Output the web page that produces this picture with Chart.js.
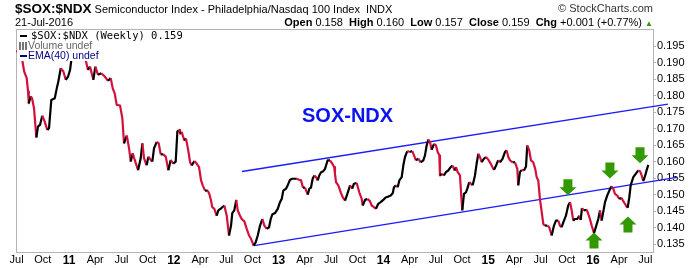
<!DOCTYPE html>
<html>
<head>
<meta charset="utf-8">
<script src="https://cdn.jsdelivr.net/npm/chart.js@4"></script>
<style>
  html, body { margin: 0; padding: 0; background: #fff; }
  #wrap { position: relative; width: 700px; height: 268px; font-family: "Liberation Sans", Arial, sans-serif; color: #000; }
  #c { position: absolute; left: 0; top: 0; }
  .abs { position: absolute; white-space: nowrap; }
  #title { left: 15px; top: 1px; line-height: 16px; font-size: 11px; }
  #title b { font-size: 13.5px; }
  #copy { right: 47px; top: 2px; font-size: 11px; color: #333; line-height: 13px; }
  #date { left: 15px; top: 16px; font-size: 11px; line-height: 13px; }
  #quote { right: 47px; top: 16px; font-size: 11px; line-height: 13px; }
  #quote .up { color: #2e9a00; font-size: 8px; }
  #legend { left: 17px; top: 30px; width: 170px; height: 31px; background: #fff; }
  #legend div { height: 10px; line-height: 10px; font-size: 10.5px; }
  .mono { font-family: "DejaVu Sans Mono", monospace; }
  .dash { display: inline-block; width: 7px; height: 2px; vertical-align: middle; margin: 0 4px 0 3px; }
  .bars { display: inline-block; width: 9px; height: 8px; vertical-align: -1px; margin-left: 2px;
          background: linear-gradient(to right, #777 0 2px, transparent 2px 3px, #777 3px 5px, transparent 5px 6px, #777 6px 8px, transparent 8px); }
  #note { left: 302px; top: 105px; font-size: 20px; font-weight: bold; color: #0a14f0; line-height: 20px; }
</style>
</head>
<body>
<div id="wrap">
  <canvas id="c" width="700" height="268"></canvas>
  <div class="abs" id="title"><b>$SOX:$NDX</b> Semiconductor Index - Philadelphia/Nasdaq 100 Index &nbsp;INDX</div>
  <div class="abs" id="copy">&copy; StockCharts.com</div>
  <div class="abs" id="date">21-Jul-2016</div>
  <div class="abs" id="quote"><b>Open</b> 0.158 &nbsp;<b>High</b> 0.160 &nbsp;<b>Low</b> 0.157 &nbsp;<b>Close</b> 0.159 &nbsp;<b>Chg</b> +0.001 (+0.77%) <span class="up">&#9650;</span></div>
  <div class="abs" id="legend">
    <div class="mono"><span class="dash" style="background:#000"></span>$SOX:$NDX (Weekly) 0.159</div>
    <div style="color:#666"><span class="bars"></span>Volume undef</div>
    <div style="color:#000080"><span class="dash" style="background:#000080;margin-right:1px"></span>EMA(40) undef</div>
  </div>
  <div class="abs" id="note">SOX-NDX</div>
</div>
<script>
// weekly $SOX:$NDX, x = decimal year
const dates = [
  2010.500, 2010.528, 2010.554, 2010.571, 2010.596, 2010.609, 2010.616, 2010.635, 2010.647, 2010.666,
  2010.688, 2010.704, 2010.723, 2010.745, 2010.768, 2010.793, 2010.809, 2010.831, 2010.864, 2010.883,
  2010.898, 2010.921, 2010.946, 2010.969, 2010.991, 2011.010, 2011.022, 2011.048, 2011.076, 2011.105,
  2011.134, 2011.159, 2011.181, 2011.200, 2011.232, 2011.251, 2011.277, 2011.308, 2011.341, 2011.372,
  2011.398, 2011.417, 2011.436, 2011.455, 2011.487, 2011.509, 2011.525, 2011.551, 2011.573, 2011.589,
  2011.608, 2011.627, 2011.659, 2011.684, 2011.700, 2011.716, 2011.741, 2011.757, 2011.780, 2011.795,
  2011.811, 2011.837, 2011.856, 2011.875, 2011.900, 2011.923, 2011.948, 2011.970, 2011.995, 2012.018,
  2012.034, 2012.050, 2012.059, 2012.075, 2012.100, 2012.116, 2012.138, 2012.155, 2012.171, 2012.196,
  2012.218, 2012.241, 2012.260, 2012.276, 2012.298, 2012.324, 2012.339, 2012.355, 2012.367, 2012.387,
  2012.409, 2012.425, 2012.457, 2012.482, 2012.505, 2012.527, 2012.546, 2012.558, 2012.577, 2012.596,
  2012.610, 2012.632, 2012.648, 2012.673, 2012.696, 2012.718, 2012.737, 2012.762, 2012.781, 2012.801,
  2012.823, 2012.845, 2012.864, 2012.887, 2012.909, 2012.925, 2012.940, 2012.966, 2012.992, 2013.013,
  2013.030, 2013.045, 2013.071, 2013.087, 2013.109, 2013.131, 2013.173, 2013.195, 2013.214, 2013.233,
  2013.252, 2013.278, 2013.293, 2013.309, 2013.325, 2013.341, 2013.357, 2013.373, 2013.388, 2013.405,
  2013.427, 2013.443, 2013.468, 2013.490, 2013.512, 2013.531, 2013.538, 2013.548, 2013.570, 2013.593,
  2013.612, 2013.634, 2013.656, 2013.682, 2013.703, 2013.719, 2013.745, 2013.770, 2013.793, 2013.803,
  2013.825, 2013.847, 2013.872, 2013.888, 2013.910, 2013.929, 2013.951, 2013.974, 2013.999, 2014.025,
  2014.047, 2014.070, 2014.089, 2014.101, 2014.120, 2014.137, 2014.152, 2014.175, 2014.190, 2014.206,
  2014.228, 2014.254, 2014.276, 2014.292, 2014.311, 2014.333, 2014.356, 2014.381, 2014.397, 2014.413,
  2014.429, 2014.445, 2014.461, 2014.483, 2014.502, 2014.518, 2014.534, 2014.540, 2014.559, 2014.578,
  2014.597, 2014.619, 2014.642, 2014.661, 2014.680, 2014.693, 2014.709, 2014.731, 2014.741, 2014.753,
  2014.769, 2014.788, 2014.801, 2014.820, 2014.836, 2014.852, 2014.874, 2014.890, 2014.906, 2014.922,
  2014.938, 2014.960, 2014.979, 2015.001, 2015.024, 2015.049, 2015.056, 2015.075, 2015.096, 2015.113,
  2015.138, 2015.160, 2015.177, 2015.192, 2015.208, 2015.234, 2015.256, 2015.278, 2015.287, 2015.303,
  2015.320, 2015.342, 2015.361, 2015.373, 2015.392, 2015.408, 2015.430, 2015.449, 2015.463, 2015.478,
  2015.494, 2015.511, 2015.526, 2015.542, 2015.564, 2015.583, 2015.606, 2015.628, 2015.647, 2015.669,
  2015.685, 2015.701, 2015.717, 2015.742, 2015.764, 2015.781, 2015.797, 2015.812, 2015.828, 2015.850,
  2015.869, 2015.883, 2015.895, 2015.914, 2015.940, 2015.955, 2015.971, 2015.988, 2016.010, 2016.029,
  2016.051, 2016.067, 2016.083, 2016.098, 2016.115, 2016.136, 2016.156, 2016.178, 2016.194, 2016.210,
  2016.232, 2016.251, 2016.274, 2016.289, 2016.315, 2016.331, 2016.347, 2016.360, 2016.385, 2016.408,
  2016.432, 2016.449, 2016.465, 2016.480, 2016.496, 2016.513, 2016.528
];
const ratio = [
  0.1938, 0.1920, 0.1908, 0.1874, 0.1853, 0.1813, 0.1777, 0.1798, 0.1792, 0.1762,
  0.1673, 0.1707, 0.1711, 0.1739, 0.1721, 0.1696, 0.1701, 0.1787, 0.1792, 0.1822,
  0.1843, 0.1883, 0.1873, 0.1848, 0.1858, 0.1878, 0.1908, 0.1938, 0.1962, 0.1950,
  0.1968, 0.1908, 0.1878, 0.1888, 0.1848, 0.1888, 0.1863, 0.1868, 0.1858, 0.1845,
  0.1853, 0.1822, 0.1807, 0.1772, 0.1770, 0.1731, 0.1655, 0.1679, 0.1640, 0.1600,
  0.1625, 0.1605, 0.1574, 0.1610, 0.1655, 0.1610, 0.1589, 0.1615, 0.1605, 0.1600,
  0.1640, 0.1660, 0.1655, 0.1622, 0.1622, 0.1615, 0.1574, 0.1605, 0.1594, 0.1600,
  0.1691, 0.1696, 0.1685, 0.1690, 0.1664, 0.1670, 0.1634, 0.1598, 0.1588, 0.1602,
  0.1594, 0.1583, 0.1543, 0.1528, 0.1512, 0.1512, 0.1502, 0.1482, 0.1462, 0.1457,
  0.1436, 0.1452, 0.1460, 0.1467, 0.1436, 0.1376, 0.1406, 0.1444, 0.1452, 0.1484,
  0.1452, 0.1436, 0.1426, 0.1419, 0.1396, 0.1376, 0.1366, 0.1345, 0.1355, 0.1376,
  0.1406, 0.1426, 0.1406, 0.1396, 0.1401, 0.1426, 0.1440, 0.1444, 0.1457, 0.1477,
  0.1487, 0.1512, 0.1518, 0.1528, 0.1545, 0.1548, 0.1548, 0.1545, 0.1543, 0.1521,
  0.1521, 0.1500, 0.1518, 0.1521, 0.1548, 0.1558, 0.1553, 0.1543, 0.1558, 0.1568,
  0.1571, 0.1578, 0.1604, 0.1604, 0.1594, 0.1583, 0.1563, 0.1538, 0.1528, 0.1507,
  0.1492, 0.1482, 0.1502, 0.1528, 0.1518, 0.1533, 0.1535, 0.1507, 0.1487, 0.1467,
  0.1484, 0.1487, 0.1480, 0.1467, 0.1462, 0.1457, 0.1472, 0.1477, 0.1484, 0.1492,
  0.1494, 0.1497, 0.1504, 0.1522, 0.1528, 0.1522, 0.1543, 0.1553, 0.1588, 0.1614,
  0.1632, 0.1629, 0.1632, 0.1619, 0.1604, 0.1609, 0.1598, 0.1604, 0.1619, 0.1649,
  0.1667, 0.1659, 0.1636, 0.1654, 0.1649, 0.1629, 0.1619, 0.1558, 0.1563, 0.1558,
  0.1568, 0.1573, 0.1583, 0.1588, 0.1573, 0.1583, 0.1568, 0.1558, 0.1507, 0.1452,
  0.1502, 0.1507, 0.1518, 0.1538, 0.1533, 0.1528, 0.1558, 0.1594, 0.1624, 0.1614,
  0.1598, 0.1609, 0.1614, 0.1606, 0.1594, 0.1578, 0.1575, 0.1588, 0.1604, 0.1598,
  0.1609, 0.1629, 0.1634, 0.1614, 0.1604, 0.1598, 0.1598, 0.1578, 0.1528, 0.1568,
  0.1575, 0.1573, 0.1585, 0.1649, 0.1634, 0.1604, 0.1598, 0.1578, 0.1553, 0.1543,
  0.1487, 0.1447, 0.1411, 0.1406, 0.1406, 0.1401, 0.1376, 0.1406, 0.1421, 0.1421,
  0.1406, 0.1401, 0.1416, 0.1436, 0.1467, 0.1477, 0.1452, 0.1421, 0.1426, 0.1426,
  0.1436, 0.1423, 0.1459, 0.1452, 0.1454, 0.1442, 0.1426, 0.1406, 0.1383, 0.1403,
  0.1426, 0.1452, 0.1421, 0.1447, 0.1477, 0.1497, 0.1512, 0.1525, 0.1518, 0.1502,
  0.1497, 0.1487, 0.1490, 0.1480, 0.1467, 0.1460, 0.1492, 0.1528, 0.1553, 0.1563,
  0.1573, 0.1571, 0.1558, 0.1541, 0.1555, 0.1575, 0.1590
];

// hand-drawn channel lines (end points)
const upperT = [2012.651, 2016.716];
const upperV = [0.1570, 0.1774];
const lowerT = [2012.765, 2016.802];
const lowerV = [0.1345, 0.1552];

// green arrows (centres)
const downT = [2015.761, 2016.162, 2016.449];
const downV = [0.1522, 0.1573, 0.1619];
const upT = [2016.010, 2016.334];
const upV = [0.1361, 0.1409];

const xTicks = [2010.5, 2010.75, 2011, 2011.25, 2011.5, 2011.75, 2012, 2012.25, 2012.5, 2012.75,
  2013, 2013.25, 2013.5, 2013.75, 2014, 2014.25, 2014.5, 2014.75, 2015, 2015.25, 2015.5, 2015.75,
  2016, 2016.25, 2016.5];
const xLabels = ["Jul", "Oct", "11", "Apr", "Jul", "Oct", "12", "Apr", "Jul", "Oct",
  "13", "Apr", "Jul", "Oct", "14", "Apr", "Jul", "Oct", "15", "Apr", "Jul", "Oct",
  "16", "Apr", "Jul"];
const yTicks = [0.135, 0.140, 0.145, 0.150, 0.155, 0.160, 0.165, 0.170, 0.175, 0.180, 0.185, 0.190, 0.195];

const RED = "#d3103c";
const BLACK = "#000";
const BLUE = "#1a1aff";
const GREEN = "#339900";
const FRAME = "#b4b4b4";
const FONT = "Liberation Sans";

const pts = (ts, vs) => ts.map((t, i) => ({ x: t, y: vs[i] }));

// grey box round the plot
const frame = {
  id: "frame",
  beforeDatasetsDraw(chart){
    const a = chart.chartArea, ctx = chart.ctx;
    ctx.save();
    ctx.strokeStyle = FRAME;
    ctx.lineWidth = 1;
    ctx.strokeRect(Math.round(a.left) + 0.5, Math.round(a.top) + 0.5,
      Math.round(a.right - a.left), Math.round(a.bottom - a.top));
    ctx.restore();
  }
};

// block arrows placed in data units
const arrows = {
  id: "arrows",
  afterDatasetsDraw(chart){
    const xs = chart.scales.x, ys = chart.scales.y, ctx = chart.ctx;
    function draw(t, v, dir){
      const x = xs.getPixelForValue(t), y = ys.getPixelForValue(v);
      ctx.beginPath();
      ctx.moveTo(x - 4.5, y - 8 * dir);
      ctx.lineTo(x + 4.5, y - 8 * dir);
      ctx.lineTo(x + 4.5, y);
      ctx.lineTo(x + 8.5, y);
      ctx.lineTo(x, y + 8 * dir);
      ctx.lineTo(x - 8.5, y);
      ctx.lineTo(x - 4.5, y);
      ctx.closePath();
      ctx.fill();
    }
    ctx.save();
    ctx.fillStyle = GREEN;
    downT.forEach((t, i) => draw(t, downV[i], 1));
    upT.forEach((t, i) => draw(t, upV[i], -1));
    ctx.restore();
  }
};

new Chart(document.getElementById("c"), {
  type: "line",
  data: {
    datasets: [
      {
        data: pts(dates, ratio),
        borderColor: BLACK,
        borderWidth: 2.2,
        pointRadius: 0,
        borderJoinStyle: "round",
        segment: {
          borderColor: c => c.p1.parsed.y < c.p0.parsed.y ? RED : BLACK
        }
      },
      { data: pts(upperT, upperV), borderColor: BLUE, borderWidth: 1.3, pointRadius: 0, clip: false },
      { data: pts(lowerT, lowerV), borderColor: BLUE, borderWidth: 1.3, pointRadius: 0, clip: false }
    ]
  },
  options: {
    responsive: false,
    animation: false,
    devicePixelRatio: 1,
    layout: { padding: { left: 16, top: 29, right: 0, bottom: 0 } },
    plugins: { legend: { display: false }, tooltip: { enabled: false } },
    scales: {
      x: {
        type: "linear",
        min: 2010.494,
        max: 2016.573,
        afterFit: s => { s.height = 16; },
        afterBuildTicks: s => { s.ticks = xTicks.map(v => ({ value: v })); },
        grid: { display: false, drawTicks: false },
        border: { display: false },
        ticks: {
          autoSkip: false,
          maxRotation: 0,
          padding: 1,
          color: "#000",
          font: c => {
            const yr = /^\d+$/.test(xLabels[c.index] || "");
            return { family: FONT, size: yr ? 12 : 11, weight: yr ? "bold" : "normal" };
          },
          callback: (v, i) => xLabels[i]
        }
      },
      y: {
        position: "right",
        min: 0.1326,
        max: 0.2002,
        afterFit: s => { s.width = 47; },
        afterBuildTicks: s => { s.ticks = yTicks.map(v => ({ value: v })); },
        grid: { display: true, drawOnChartArea: false, drawTicks: true, tickLength: 3, color: FRAME },
        border: { display: false },
        ticks: {
          padding: 1,
          color: "#000",
          font: { family: FONT, size: 11 },
          callback: v => v.toFixed(3)
        }
      }
    }
  },
  plugins: [frame, arrows]
});
</script>
</body>
</html>
